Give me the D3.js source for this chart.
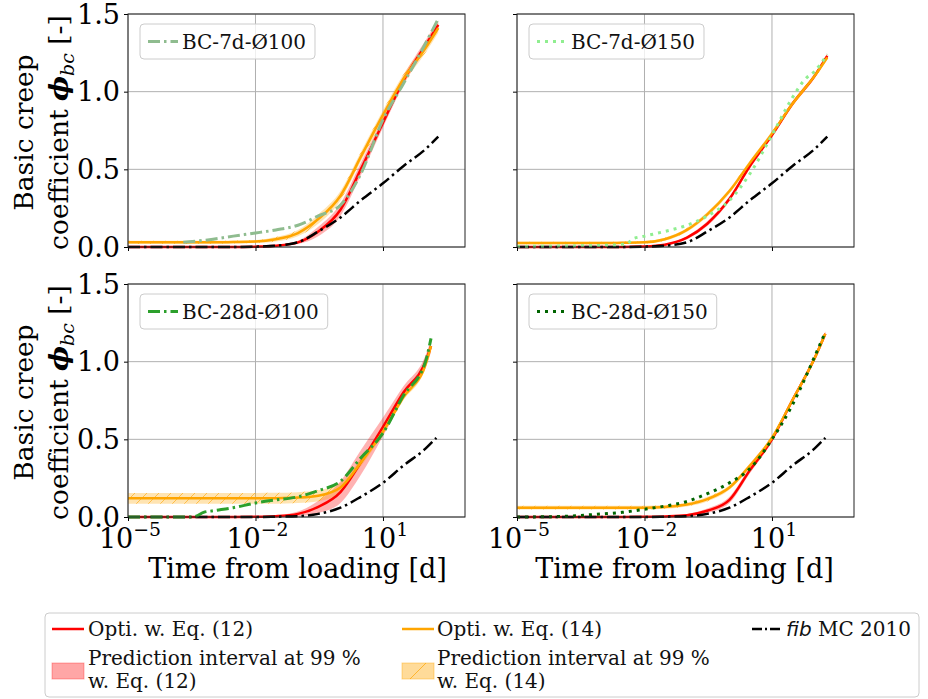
<!DOCTYPE html>
<html lang="en">
<head>
<meta charset="UTF-8">
<title>Basic creep coefficient</title>
<script src="https://cdnjs.cloudflare.com/ajax/libs/d3/7.8.5/d3.min.js"></script>
<style>
  body { margin: 0; background: #fff; }
  svg { display: block; font-family: "DejaVu Serif", serif; }
</style>
</head>
<body>
<svg id="chart" width="928" height="699"></svg>
<script>
// ---- data (time in days, creep coefficient [-]) ----
const tFit7 = [1e-5, 1e-4, 1e-3, 3e-3, 1e-2, 3e-2, 0.1, 0.3, 1, 3, 10, 30, 100, 200];
const tFit28a = [1e-5, 1e-4, 1e-3, 3e-3, 1e-2, 3e-2, 0.1, 0.3, 1, 3, 10, 30, 100, 135];
const tFit28b = [1e-5, 1e-4, 1e-3, 3e-3, 1e-2, 3e-2, 0.1, 0.3, 1, 3, 10, 30, 100, 180];

// fib MC 2010
const mc7d = [0, 0, 0, 0, 0.002, 0.008, 0.03, 0.1, 0.19, 0.3, 0.41, 0.52, 0.63, 0.71];
const mc28d = [0, 0, 0, 0, 0, 0.002, 0.005, 0.02, 0.06, 0.13, 0.22, 0.33, 0.44, 0.51];

// BC-7d-Ø100
const eq12_7d100 = [0, 0, 0, 0, 0.002, 0.008, 0.03, 0.1, 0.24, 0.5, 0.8, 1.07, 1.3, 1.43];
const eq14_7d100 = [0.03, 0.03, 0.03, 0.032, 0.035, 0.05, 0.09, 0.18, 0.33, 0.58, 0.85, 1.08, 1.28, 1.41];
const pi12_7d100 = [0, 0, 0, 0, 0.002, 0.005, 0.01, 0.03, 0.04, 0.04, 0.03, 0.03, 0.03, 0.03];
const pi14_7d100 = [0.01, 0.01, 0.01, 0.01, 0.01, 0.015, 0.02, 0.03, 0.03, 0.03, 0.03, 0.03, 0.03, 0.03];
const tMeas7d100 = [2e-4, 1e-3, 3e-3, 1e-2, 3e-2, 0.1, 0.3, 1, 3, 10, 30, 100, 200];
const meas7d100 = [0.03, 0.05, 0.07, 0.09, 0.11, 0.14, 0.2, 0.27, 0.47, 0.82, 1.05, 1.31, 1.47];

// BC-7d-Ø150
const eq12_7d150 = [0, 0, 0, 0, 0.003, 0.015, 0.06, 0.15, 0.31, 0.52, 0.72, 0.92, 1.1, 1.23];
const eq14_7d150 = [0.025, 0.025, 0.025, 0.027, 0.03, 0.05, 0.11, 0.21, 0.36, 0.54, 0.73, 0.92, 1.1, 1.22];
const pi12_7d150 = [0, 0, 0, 0, 0.002, 0.005, 0.01, 0.015, 0.015, 0.015, 0.015, 0.015, 0.015, 0.015];
const pi14_7d150 = [0.008, 0.008, 0.008, 0.008, 0.008, 0.01, 0.012, 0.015, 0.015, 0.015, 0.015, 0.015, 0.015, 0.015];
const tMeas7d150 = [1e-5, 1e-4, 1e-3, 4e-3, 5e-3, 1e-2, 3e-2, 0.1, 0.3, 1, 3, 10, 30, 60, 100, 200];
const meas7d150 = [0.003, 0.006, 0.01, 0.02, 0.05, 0.07, 0.1, 0.14, 0.2, 0.3, 0.47, 0.72, 0.96, 1.08, 1.13, 1.24];

// BC-28d-Ø100
const eq12_28d100 = [0, 0, 0, 0, 0.001, 0.005, 0.02, 0.065, 0.16, 0.35, 0.58, 0.8, 1.0, 1.1];
const eq14_28d100 = [0.12, 0.12, 0.12, 0.12, 0.12, 0.121, 0.125, 0.137, 0.19, 0.35, 0.55, 0.77, 0.98, 1.1];
const pi12_28d100 = [0, 0, 0, 0, 0.002, 0.005, 0.015, 0.04, 0.07, 0.08, 0.06, 0.04, 0.04, 0.04];
const pi14_28d100 = [0.035, 0.035, 0.035, 0.035, 0.035, 0.035, 0.035, 0.035, 0.03, 0.025, 0.02, 0.02, 0.02, 0.02];
const tMeas28d100 = [1e-5, 3e-4, 4e-4, 6e-4, 1e-3, 3e-3, 1e-2, 3e-2, 0.1, 0.3, 1, 3, 10, 30, 100, 135];
const meas28d100 = [0, 0, 0.005, 0.03, 0.04, 0.06, 0.09, 0.11, 0.13, 0.17, 0.23, 0.38, 0.54, 0.78, 1.0, 1.15];

// BC-28d-Ø150
const eq12_28d150 = [0, 0, 0, 0, 0.001, 0.004, 0.012, 0.04, 0.11, 0.3, 0.5, 0.75, 1.02, 1.18];
const eq14_28d150 = [0.06, 0.06, 0.06, 0.06, 0.06, 0.065, 0.08, 0.115, 0.19, 0.33, 0.51, 0.75, 1.02, 1.18];
const pi12_28d150 = [0, 0, 0, 0, 0.001, 0.003, 0.008, 0.015, 0.02, 0.02, 0.015, 0.015, 0.015, 0.015];
const pi14_28d150 = [0.012, 0.012, 0.012, 0.012, 0.012, 0.012, 0.012, 0.015, 0.015, 0.015, 0.015, 0.015, 0.015, 0.015];
const tMeas28d150 = [1e-5, 1e-4, 3e-4, 1e-3, 3e-3, 1e-2, 3e-2, 0.1, 0.3, 1, 3, 10, 30, 100, 180];
const meas28d150 = [0, 0.003, 0.01, 0.02, 0.03, 0.05, 0.07, 0.1, 0.15, 0.22, 0.31, 0.5, 0.72, 1.03, 1.19];

const xTicks = [1e-5, 1e-2, 1e1];
const yTicks = [0, 0.5, 1.0, 1.5];

// ---- layout ----
const svg = d3.select("#chart");
const pw = 337, ph = 233;

const dashDot = "12,4,2.5,4";
const dotted = "3,5";

const panels = [
  { left: 128, top: 14, label: "BC-7d-Ø100", color: "darkseagreen", dash: dashDot,
    tFit: tFit7, eq12: eq12_7d100, eq14: eq14_7d100, pi12: pi12_7d100, pi14: pi14_7d100,
    tMc: tFit7, mc: mc7d, tMeas: tMeas7d100, meas: meas7d100, yLab: true, xLab: false },
  { left: 517, top: 14, label: "BC-7d-Ø150", color: "lightgreen", dash: dotted,
    tFit: tFit7, eq12: eq12_7d150, eq14: eq14_7d150, pi12: pi12_7d150, pi14: pi14_7d150,
    tMc: tFit7, mc: mc7d, tMeas: tMeas7d150, meas: meas7d150, yLab: false, xLab: false },
  { left: 128, top: 284, label: "BC-28d-Ø100", color: "#2ca02c", dash: dashDot,
    tFit: tFit28a, eq12: eq12_28d100, eq14: eq14_28d100, pi12: pi12_28d100, pi14: pi14_28d100,
    tMc: tFit28b, mc: mc28d, tMeas: tMeas28d100, meas: meas28d100, yLab: true, xLab: true },
  { left: 517, top: 284, label: "BC-28d-Ø150", color: "darkgreen", dash: dotted,
    tFit: tFit28b, eq12: eq12_28d150, eq14: eq14_28d150, pi12: pi12_28d150, pi14: pi14_28d150,
    tMc: tFit28b, mc: mc28d, tMeas: tMeas28d150, meas: meas28d150, yLab: false, xLab: true }
];

const x = d3.scaleLog().domain([1e-5, Math.pow(10, 2.93)]).range([0, pw]);
const y = d3.scaleLinear().domain([0, 1.5]).range([ph, 0]);

// hatch for Eq. (14) interval
const defs = svg.append("defs");
const hatch = defs.append("pattern")
  .attr("id", "hatch").attr("patternUnits", "userSpaceOnUse")
  .attr("width", 12).attr("height", 12);
hatch.append("path")
  .attr("d", "M0,12 L12,0 M-3,3 L3,-3 M9,15 L15,9")
  .attr("stroke", "orange").attr("stroke-width", 1).attr("stroke-opacity", 0.6);

const line = d3.line().x(d => x(d[0])).y(d => y(d[1])).curve(d3.curveMonotoneX);
const band = d3.area().x(d => x(d[0])).y0(d => y(d[1] - d[2])).y1(d => y(d[1] + d[2])).curve(d3.curveMonotoneX);

function expLabel(sel, v, size) {
  const e = Math.round(Math.log10(v));
  const t = sel.append("text").attr("text-anchor", "middle").attr("font-size", size);
  t.append("tspan").text("10");
  t.append("tspan").attr("dy", -12).attr("font-size", size * 0.7).text(e < 0 ? "\u2212" + (-e) : e);
  return t;
}

panels.forEach(p => {
  const g = svg.append("g").attr("transform", `translate(${p.left},${p.top})`);

  // grid
  g.append("g").selectAll("line").data(xTicks).join("line")
    .attr("x1", d => x(d)).attr("x2", d => x(d)).attr("y1", 0).attr("y2", ph)
    .attr("stroke", "#b0b0b0").attr("stroke-width", 1);
  g.append("g").selectAll("line").data(yTicks).join("line")
    .attr("x1", 0).attr("x2", pw).attr("y1", d => y(d)).attr("y2", d => y(d))
    .attr("stroke", "#b0b0b0").attr("stroke-width", 1);

  const fit12 = p.tFit.map((t, i) => [t, p.eq12[i], p.pi12[i]]);
  const fit14 = p.tFit.map((t, i) => [t, p.eq14[i], p.pi14[i]]);
  const mc = p.tMc.map((t, i) => [t, p.mc[i]]);
  const meas = p.tMeas.map((t, i) => [t, p.meas[i]]);

  const plot = g.append("g");
  plot.append("path").attr("d", band(fit12)).attr("fill", "red").attr("fill-opacity", 0.3);
  plot.append("path").attr("d", band(fit14)).attr("fill", "orange").attr("fill-opacity", 0.3);
  plot.append("path").attr("d", band(fit14)).attr("fill", "url(#hatch)");
  plot.append("path").attr("d", line(fit12)).attr("fill", "none").attr("stroke", "red").attr("stroke-width", 2.5);
  plot.append("path").attr("d", line(fit14)).attr("fill", "none").attr("stroke", "orange").attr("stroke-width", 2.5);
  plot.append("path").attr("d", line(mc)).attr("fill", "none").attr("stroke", "black")
    .attr("stroke-width", 2.5).attr("stroke-dasharray", dashDot);
  plot.append("path").attr("d", line(meas)).attr("fill", "none").attr("stroke", p.color)
    .attr("stroke-width", 3).attr("stroke-dasharray", p.dash);

  // ticks
  g.append("g").attr("transform", `translate(0,${ph})`)
    .call(d3.axisBottom(x).tickValues(xTicks).tickSize(4).tickFormat(""))
    .call(a => a.select(".domain").remove());
  g.append("g")
    .call(d3.axisLeft(y).tickValues(yTicks).tickSize(4).tickFormat(""))
    .call(a => a.select(".domain").remove());

  // frame
  g.append("rect").attr("width", pw).attr("height", ph)
    .attr("fill", "none").attr("stroke", "#222").attr("stroke-width", 1);

  if (p.yLab) {
    g.append("g").selectAll("text").data(yTicks).join("text")
      .attr("x", -8).attr("y", d => y(d)).attr("dy", "0.36em")
      .attr("text-anchor", "end").attr("font-size", 27)
      .text(d => d.toFixed(1));
    const lab = g.append("g").attr("transform", `translate(-95,${ph / 2 + 2}) rotate(-90)`);
    lab.append("text").attr("text-anchor", "middle").attr("font-size", 26.5).text("Basic creep");
    const t2 = lab.append("text").attr("y", 35).attr("text-anchor", "middle").attr("font-size", 26.5);
    t2.append("tspan").text("coefficient ");
    t2.append("tspan").attr("font-style", "italic").attr("font-weight", "bold").text("\u03D5");
    t2.append("tspan").attr("font-style", "italic").attr("font-size", 19).attr("dy", 6).text("bc");
    t2.append("tspan").attr("dy", -6).text(" [-]");
  }
  if (p.xLab) {
    xTicks.forEach(v => {
      expLabel(g.append("g").attr("transform", `translate(${x(v) + 2},${ph + 31})`), v, 27);
    });
    g.append("text").attr("x", pw / 2 + (p.left < 300 ? 1 : -1)).attr("y", ph + 61)
      .attr("text-anchor", "middle").attr("font-size", 27).text("Time from loading [d]");
  }

  // panel legend
  const lg = g.append("g").attr("transform", "translate(12,10)");
  const box = lg.append("rect").attr("height", 35).attr("rx", 4)
    .attr("fill", "white").attr("fill-opacity", 0.8).attr("stroke", "#cccccc");
  lg.append("line").attr("x1", 8).attr("x2", 38).attr("y1", 17.5).attr("y2", 17.5)
    .attr("stroke", p.color).attr("stroke-width", 3).attr("stroke-dasharray", p.dash);
  const lt = lg.append("text").attr("x", 42).attr("y", 17.5).attr("dy", "0.35em")
    .attr("font-size", 20).attr("fill", "#111").text(p.label);
  box.attr("width", 42 + lt.node().getComputedTextLength() + 9);
});

// ---- bottom legend ----
const leg = svg.append("g");
leg.append("rect").attr("x", 45).attr("y", 613).attr("width", 874).attr("height", 84).attr("rx", 4)
  .attr("fill", "white").attr("stroke", "#cccccc");

function legText(xp, yp, txt) {
  return leg.append("text").attr("x", xp).attr("y", yp).attr("dy", "0.35em")
    .attr("font-size", 20).attr("fill", "#111").text(txt);
}
leg.append("line").attr("x1", 52).attr("x2", 84).attr("y1", 629).attr("y2", 629)
  .attr("stroke", "red").attr("stroke-width", 2.5);
legText(88, 629, "Opti. w. Eq. (12)");
leg.append("line").attr("x1", 402).attr("x2", 434).attr("y1", 629).attr("y2", 629)
  .attr("stroke", "orange").attr("stroke-width", 2.5);
legText(437, 629, "Opti. w. Eq. (14)");
leg.append("line").attr("x1", 752).attr("x2", 782).attr("y1", 629).attr("y2", 629)
  .attr("stroke", "black").attr("stroke-width", 2.5).attr("stroke-dasharray", "10,3,2,3");
const fibT = legText(786, 629, "");
fibT.append("tspan").attr("font-family", "DejaVu Sans").attr("font-style", "italic").text("fib");
fibT.append("tspan").text(" MC 2010");

leg.append("rect").attr("x", 52).attr("y", 663).attr("width", 32).attr("height", 16)
  .attr("fill", "red").attr("fill-opacity", 0.35).attr("stroke", "red").attr("stroke-opacity", 0.3);
legText(88, 658, "Prediction interval at 99 %");
legText(88, 681, "w. Eq. (12)");
leg.append("rect").attr("x", 402).attr("y", 663).attr("width", 32).attr("height", 16)
  .attr("fill", "orange").attr("fill-opacity", 0.4).attr("stroke", "orange").attr("stroke-opacity", 0.4);
leg.append("path").attr("d", "M410,679 L426,663").attr("stroke", "orange").attr("stroke-opacity", 0.7);
legText(437, 658, "Prediction interval at 99 %");
legText(437, 681, "w. Eq. (14)");
</script>
</body>
</html>
